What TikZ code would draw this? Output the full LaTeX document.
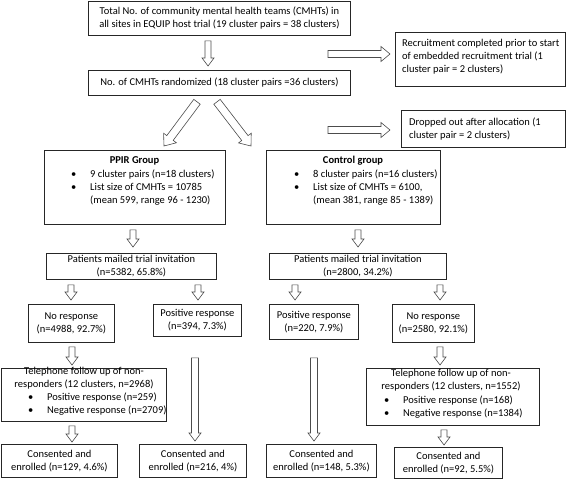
\documentclass[tikz,border=0pt]{standalone}
\usepackage{fontspec}
\setmainfont{Carlito}
\usetikzlibrary{calc}
\begin{document}
\begin{tikzpicture}[x=1pt,y=-1pt,
  box/.style={draw=black!85, line width=0.8pt, inner sep=0pt, anchor=north west, align=center, font=\fontsize{10.5}{13}\selectfont},
  txt/.style={inner sep=0pt, font=\fontsize{10.5}{13}\selectfont},
  blk/.style n args={3}{draw=black!70, fill=white, line width=0.6pt,
    to path={
      ($(\tikztostart)!#1!90:(\tikztotarget)$) --
      ($(\tikztotarget)!#3!(\tikztostart)!#1!-90:(\tikztostart)$) --
      ($(\tikztotarget)!#3!(\tikztostart)!#2!-90:(\tikztostart)$) --
      (\tikztotarget) --
      ($(\tikztotarget)!#3!(\tikztostart)!#2!90:(\tikztostart)$) --
      ($(\tikztotarget)!#3!(\tikztostart)!#1!90:(\tikztostart)$) --
      ($(\tikztostart)!#1!-90:(\tikztotarget)$) -- cycle}},
  small/.style={blk={3pt}{6pt}{8pt}},
  longa/.style={blk={3.5pt}{6pt}{8pt}},
  side/.style={blk={3.5pt}{7.5pt}{9pt}},
  diag/.style={blk={4pt}{8pt}{10pt}}
]
\useasboundingbox (0,0) rectangle (567,479);

% boxes
\node[box, minimum width=262pt, minimum height=34pt] (top) at (88,1)
  {Total No. of community mental health teams (CMHTs) in\\all sites in EQUIP host trial (19 cluster pairs = 38 clusters)};
\node[box, minimum width=262pt, minimum height=25pt] (rand) at (88,70)
  {No. of CMHTs randomized (18 cluster pairs =36 clusters)};
\node[box, minimum width=170pt, minimum height=54pt] (rec) at (395,32) {};
\node[txt, anchor=west, align=left] (recT) at (402,57)
  {Recruitment completed prior to start\\of embedded recruitment trial (1\\cluster pair = 2 clusters)};
\node[box, minimum width=164pt, minimum height=37pt] (drop) at (401,110) {};
\node[txt, anchor=west, align=left] (dropT) at (409,129)
  {Dropped out after allocation (1\\cluster pair = 2 clusters)};

\node[box, minimum width=181pt, minimum height=74pt] (ppir) at (44,150) {};
\node[txt, font=\fontsize{10.5}{13}\selectfont\bfseries] (ppirT) at (134.5,161) {PPIR Group};
\node[txt, anchor=north west, align=left] (ppirB) at (71,168)
  {\begin{tabular}{@{}p{19pt}@{}l@{}}
  \textbullet & 9 cluster pairs (n=18 clusters)\\
  \textbullet & List size of CMHTs = 10785\\
  & (mean 599, range 96 - 1230)
  \end{tabular}};

\node[box, minimum width=174pt, minimum height=74pt] (ctrl) at (266,150) {};
\node[txt, font=\fontsize{10.5}{13}\selectfont\bfseries] (ctrlT) at (353,161) {Control group};
\node[txt, anchor=north west, align=left] (ctrlB) at (294,168)
  {\begin{tabular}{@{}p{19pt}@{}l@{}}
  \textbullet & 8 cluster pairs (n=16 clusters)\\
  \textbullet & List size of CMHTs = 6100,\\
  & (mean 381, range 85 - 1389)
  \end{tabular}};

\node[box, minimum width=170pt, minimum height=26pt] (mailL) at (46,253)
  {Patients mailed trial invitation\\(n=5382, 65.8\%)};
\node[box, minimum width=177pt, minimum height=26pt] (mailR) at (269,253)
  {Patients mailed trial invitation\\(n=2800, 34.2\%)};

\node[box, minimum width=86pt, minimum height=38pt] (noL) at (28,304)
  {No response\\(n=4988, 92.7\%)};
\node[box, minimum width=88pt, minimum height=32pt] (posL) at (153,304)
  {Positive response\\(n=394, 7.3\%)};
\node[box, minimum width=89pt, minimum height=35pt] (posR) at (269,304)
  {Positive response\\(n=220, 7.9\%)};
\node[box, minimum width=82pt, minimum height=38pt] (noR) at (392,304)
  {No response\\(n=2580, 92.1\%)};

\node[box, minimum width=165pt, minimum height=53pt] (telL) at (1,368) {};
\node[txt, align=center, anchor=north] (telLT) at (84,367)
  {Telephone follow up of non-\\responders (12 clusters, n=2968)};
\node[txt, anchor=north west, align=left] (telLB) at (28,391)
  {\begin{tabular}{@{}p{19pt}@{}l@{}}
  \textbullet & Positive response (n=259)\\
  \textbullet & Negative response (n=2709)
  \end{tabular}};

\node[box, minimum width=173pt, minimum height=57pt] (telR) at (366,368) {};
\node[txt, align=center, anchor=north] (telRT) at (451,369)
  {Telephone follow up of non-\\responders (12 clusters, n=1552)};
\node[txt, anchor=north west, align=left] (telRB) at (384,394)
  {\begin{tabular}{@{}p{19pt}@{}l@{}}
  \textbullet & Positive response (n=168)\\
  \textbullet & Negative response (n=1384)
  \end{tabular}};

\node[box, minimum width=116pt, minimum height=33pt] (c1) at (1,444)
  {Consented and\\enrolled (n=129, 4.6\%)};
\node[box, minimum width=107pt, minimum height=33pt] (c2) at (139,444)
  {Consented and\\enrolled (n=216, 4\%)};
\node[box, minimum width=110pt, minimum height=33pt] (c3) at (266,444)
  {Consented and\\enrolled (n=148, 5.3\%)};
\node[box, minimum width=108pt, minimum height=31pt] (c4) at (394,447)
  {Consented and\\enrolled (n=92, 5.5\%)};

% block arrows
\draw[small] ($(208,0 |- top.south)+(0,5)$) to ($(208,0 |- rand.north)+(0,-4)$);
\coordinate (r1) at (328,54);
\coordinate (r2) at (328,130);
\draw[side] (r1) to ($(rec.west |- r1)+(-5,0)$);
\draw[side] (r2) to ($(drop.west |- r2)+(-11,0)$);
\draw[diag] ($(197,0 |- rand.south)+(0,6)$) to ($(164,0 |- ppir.north)+(0,-4)$);
\draw[diag] ($(217,0 |- rand.south)+(0,6)$) to ($(251,0 |- ppir.north)+(0,-4)$);
\draw[small] ($(133,0 |- ppir.south)+(0,5)$) to ($(133,0 |- mailL.north)+(0,-6)$);
\draw[small] ($(358,0 |- ctrl.south)+(0,5)$) to ($(358,0 |- mailR.north)+(0,-6)$);
\draw[small] ($(71,0 |- mailL.south)+(0,5)$) to ($(71,0 |- noL.north)+(0,-4)$);
\draw[small] ($(198,0 |- mailL.south)+(0,5)$) to ($(198,0 |- posL.north)+(0,-4)$);
\draw[small] ($(295,0 |- mailR.south)+(0,5)$) to ($(295,0 |- posR.north)+(0,-4)$);
\draw[small] ($(440,0 |- mailR.south)+(0,5)$) to ($(440,0 |- noR.north)+(0,-4)$);
\draw[small] ($(72,0 |- noL.south)+(0,4)$) to ($(72,0 |- telL.north)+(0,-3)$);
\draw[longa] ($(195,0 |- posL.south)+(0,21)$) to ($(195,0 |- c2.north)+(0,-3)$);
\draw[longa] ($(314,0 |- posR.south)+(0,18)$) to ($(314,0 |- c3.north)+(0,-3)$);
\draw[small] ($(440,0 |- noR.south)+(0,4)$) to ($(440,0 |- telR.north)+(0,-3)$);
\draw[small] ($(72,0 |- telL.south)+(0,4)$) to ($(72,0 |- c1.north)+(0,-2)$);
\draw[small] ($(444,0 |- telR.south)+(0,4)$) to ($(444,0 |- c4.north)+(0,-2)$);
\end{tikzpicture}
\end{document}
